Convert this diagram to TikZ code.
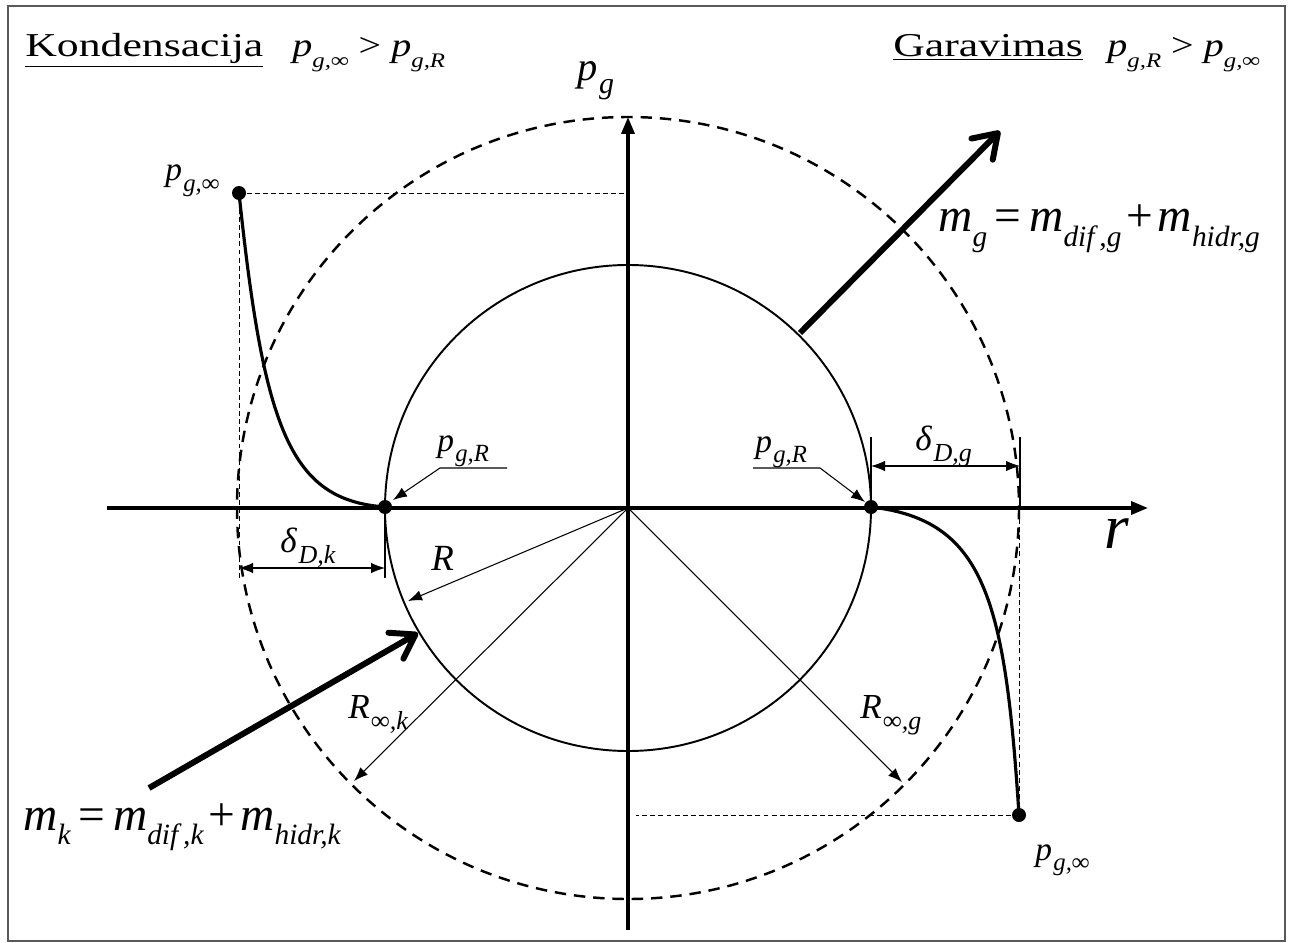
\documentclass[tikz,border=0pt]{standalone}
\usepackage{fontspec}
\setmainfont{Liberation Serif}
\usetikzlibrary{arrows.meta,calc}
\newcommand\Sb[1]{\raisebox{-0.3em}{\scalebox{0.62}{#1}}}
\newcommand\Sl[1]{\hspace{0.04em}\raisebox{-0.32em}{\scalebox{0.74}{#1}}}
\newcommand\pv[1]{\textit{p}\Sb{\textit{#1}}}
\newcommand\pl[1]{\textit{p}\Sl{\textit{#1}}}
\begin{document}
\begin{tikzpicture}[x=0.02cm,y=-0.02cm,
  dot/.style={circle,fill=black,inner sep=0pt,minimum size=0.28cm},
  axisline/.style={line width=2pt,-{Triangle[length=0.34cm,width=0.26cm]}},
  thinarrow/.style={line width=0.6pt,-{Latex[length=0.28cm,width=0.21cm]}},
  dimline/.style={line width=0.6pt,{Latex[length=0.28cm,width=0.21cm]}-{Latex[length=0.28cm,width=0.21cm]}},
  extline/.style={line width=0.6pt},
  guide/.style={line width=0.5pt,dash pattern=on 2.8pt off 1.8pt},
  outerc/.style={line width=1.4pt,dash pattern=on 6.5pt off 4.5pt},
  innerc/.style={line width=1.1pt},
  curveline/.style={line width=1.8pt},
  bigarrow/.style={line width=3.4pt,-{Straight Barb[length=0.45cm,width=0.6cm,round]}},
  hdr/.style={inner sep=0pt,anchor=base west,font=\fontsize{19}{22}\selectfont},
  lab/.style={inner sep=0pt,anchor=base west,font=\fontsize{19}{22}\selectfont},
  eq/.style={inner sep=0pt,anchor=base west,font=\fontsize{27}{32}\selectfont},
]
\useasboundingbox (0,0) rectangle (1293,942);
\fill[white] (0,0) rectangle (1293,942);
\draw[black!65,line width=0.7pt] (8,6) rectangle (1285,941);

% key points
\coordinate (O) at (628,508);
\node[dot] (pRL) at (385,507) {};
\node[dot] (pRR) at (871,507) {};
\node[dot] (pinfL) at (239,193) {};
\node[dot] (pinfR) at (1019,815) {};

% circles
\draw[innerc] (O) circle [radius=243];
\draw[outerc] (O) circle [radius=391];

% guide lines
\coordinate (gL1) at (628,193);
\coordinate (gL2) at (239,578);
\coordinate (gR1) at (636,815);
\coordinate (gR2) at (1019,508);
\draw[guide] (pinfL.center) -- (gL1);
\draw[guide] (pinfL.center) -- (gL2);
\draw[guide] (pinfR.center) -- (gR1);
\draw[guide] (pinfR.center) -- (gR2);

% axes
\coordinate (xa0) at (107,508);
\coordinate (xa1) at (1148,508);
\coordinate (ya0) at (628,930);
\coordinate (ya1) at (628,117);
\draw[axisline] (xa0) -- (xa1);
\draw[axisline] (ya0) -- (ya1);

% curves
\draw[curveline] (pinfL.center) .. controls (264,430) and (290,500) .. (pRL.center);
\draw[curveline] (pRR.center) .. controls (985,520) and (1005,600) .. (pinfR.center);

% radius arrows
\coordinate (tR) at (408,601);
\coordinate (tRk) at (354,781);
\coordinate (tRg) at (902,782);
\draw[thinarrow] (O) -- (tR);
\draw[thinarrow] (O) -- (tRk);
\draw[thinarrow] (O) -- (tRg);

% dimension delta_D,k
\coordinate (ekL) at (239,568);
\coordinate (ekR) at (385,568);
\coordinate (ekRb) at (385,578);
\draw[extline] (pRL.center) -- (ekRb);
\draw[dimline] (ekL) -- (ekR);
% dimension delta_D,g
\coordinate (egL0) at (871,437);
\coordinate (egR0) at (1020,437);
\coordinate (egR1) at (1020,510);
\coordinate (egL) at (871,466);
\coordinate (egR) at (1020,466);
\draw[extline] (egL0) -- (pRR.center);
\draw[extline] (egR0) -- (egR1);
\draw[dimline] (egL) -- (egR);

% p_g,R leaders
\coordinate (uL1) at (507,468);
\coordinate (uL0) at (440,468);
\coordinate (tL) at (393,500);
\draw[thinarrow] (uL1) -- (uL0) -- (tL);
\coordinate (uR0) at (753,468);
\coordinate (uR1) at (820,468);
\coordinate (tRR) at (865,502);
\draw[thinarrow] (uR0) -- (uR1) -- (tRR);

% big arrows
\coordinate (mg0) at (800,333);
\coordinate (mg1) at (1000,131);
\coordinate (mk0) at (149,788);
\coordinate (mk1) at (418,633);
\draw[bigarrow] (mg0) -- (mg1);
\draw[bigarrow] (mk0) -- (mk1);

% texts
\node[hdr] (kond) at (25,57) {\scalebox{1.31}[1]{\underline{Kondensacija}}};
\node[hdr] (kondeq) at (292,57) {\scalebox{1.2}[1]{\pv{g,∞} > \pv{g,R}}};
\node[hdr] (gar) at (893,57) {\scalebox{1.31}[1]{\underline{Garavimas}}};
\node[hdr] (gareq) at (1107,57) {\scalebox{1.2}[1]{\pv{g,R} > \pv{g,∞}}};
\node[inner sep=0pt,anchor=base west,font=\fontsize{23}{26}\selectfont] (pglab) at (577,81) {\pl{g}};
\node[lab] (pinfLlab) at (165,181) {\pl{g,∞}};
\node[lab] (pinfRlab) at (1035,860) {\pl{g,∞}};
\node[lab] (pRLlab) at (437,451) {\pl{g,R}};
\node[lab] (pRRlab) at (755,452) {\pl{g,R}};
\node[inner sep=0pt,anchor=base west,font=\fontsize{20}{24}\selectfont] (dk) at (280,552) {\textit{δ}\Sl{\textit{D,k}}};
\node[inner sep=0pt,anchor=base west,font=\fontsize{20}{24}\selectfont] (dg) at (915,450) {\textit{δ}\Sl{\textit{D,g}}};
\node[lab,font=\fontsize{21}{24}\selectfont] (Rlab) at (431,570) {\textit{R}};
\node[lab,font=\fontsize{20}{24}\selectfont] (Rklab) at (348,718) {\textit{R}\Sl{\textit{∞,k}}};
\node[lab,font=\fontsize{20}{24}\selectfont] (Rglab) at (860,718) {\textit{R}\Sl{\textit{∞,g}}};
\node[inner sep=0pt,anchor=base west,font=\fontsize{36}{40}\selectfont] (rlab) at (1104,548) {\textit{r}};
\node[eq] (mgeq) at (938,232) {\textit{m}\Sb{\textit{g}}\hspace{0.16em}=\hspace{0.16em}\textit{m}\Sb{\textit{dif\,,g}}\hspace{0.1em}+\hspace{0.1em}\textit{m}\Sb{\textit{hidr,g}}};
\node[eq] (mkeq) at (23,830) {\textit{m}\Sb{\textit{k}}\hspace{0.16em}=\hspace{0.16em}\textit{m}\Sb{\textit{dif\,,k}}\hspace{0.1em}+\hspace{0.1em}\textit{m}\Sb{\textit{hidr,k}}};
\end{tikzpicture}
\end{document}
